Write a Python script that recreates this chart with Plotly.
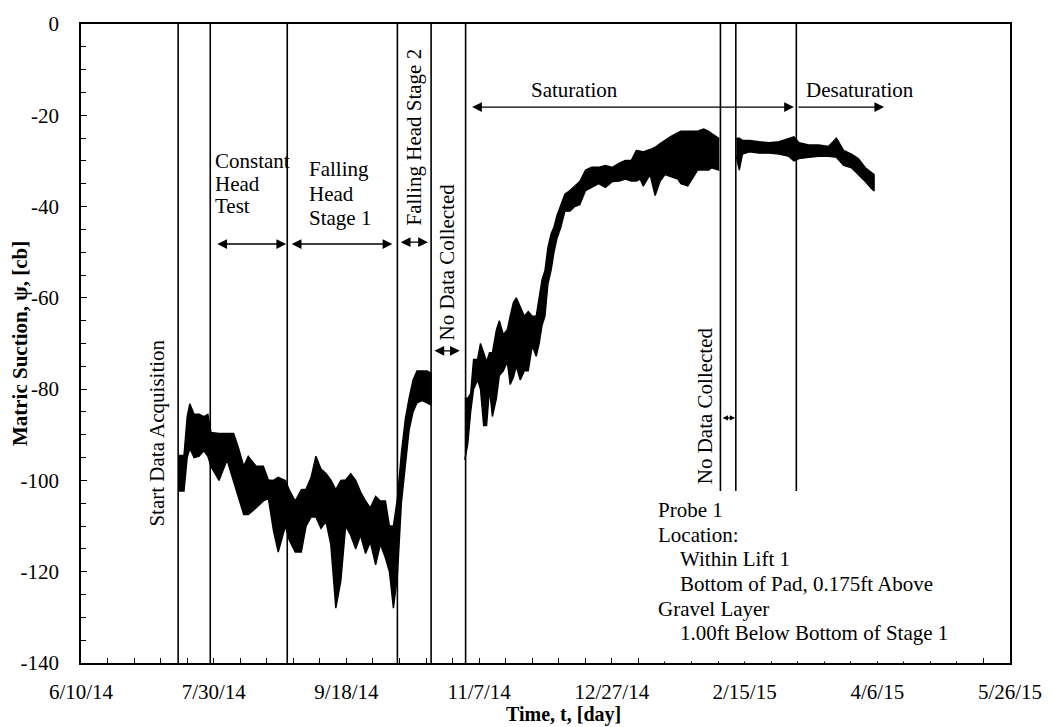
import pandas as pd
import plotly.graph_objects as go

START = "2014-06-10"          # left end of the time axis
END = "2015-05-26"            # right end of the time axis

# x tick labels (every 50 days)
xtick_dates = ["2014-06-10", "2014-07-30", "2014-09-18", "2014-11-07",
               "2014-12-27", "2015-02-15", "2015-04-06", "2015-05-26"]
xtick_text = ["6/10/14", "7/30/14", "9/18/14", "11/7/14",
              "12/27/14", "2/15/15", "4/6/15", "5/26/15"]
ytick_vals = [0, -20, -40, -60, -80, -100, -120, -140]
ytick_text = ["0", "-20", "-40", "-60", "-80", "-100", "-120", "-140"]

# Probe 1 record: days since 6/10/14, upper and lower envelope of the noisy signal [cb]
days_1 = [36.6, 38.8, 40.0, 41.0, 42.6, 44.5, 46.3, 47.8, 49.0, 52.0,
          55.0, 57.5, 59.4, 61.3, 63.0, 66.0, 68.7, 70.6, 72.5, 74.3,
          77.0, 78.4, 80.7, 83.0, 84.8, 86.7, 88.5, 90.4, 92.3, 94.1,
          96.0, 97.9, 99.7, 101.6, 103.5, 105.3, 107.2, 109.0, 111.0, 112.8,
          114.7, 116.2, 117.7, 119.2, 120.7, 122.2, 123.6, 125.1, 126.6, 128.5,
          130.4, 131.9]
upper_1 = [-94.5, -94.5, -86, -83.2, -85.5, -85.5, -86, -85.5, -89.5, -89.7,
           -89.7, -89.7, -93, -96.9, -94.7, -96.9, -96.9, -99.9, -100, -99.3,
           -100, -102, -104.5, -102, -101.9, -99.3, -94.7, -97.5, -98.5, -99.9,
           -102, -100, -99.9, -98.5, -100, -102.5, -104.5, -106, -103.5, -104.5,
           -104.5, -110, -110, -104, -94, -86.5, -82, -78, -76, -76,
           -76, -76.5]
lower_1 = [-102.3, -102.3, -95, -93, -95, -94.7, -93.5, -94.7, -97, -100,
           -95.5, -100, -104, -107.5, -107.5, -106, -104.5, -104, -111, -115.7,
           -110, -113, -115.7, -115.7, -110, -108, -108, -110.5, -109, -114,
           -128, -122, -110, -112, -115, -112, -116, -113.5, -118.5, -114,
           -117, -120, -128, -121, -105, -97, -89, -85, -83, -82.5,
           -83, -83.5]

days_2 = [144.6, 145.7, 146.8, 147.9, 149.4, 150.5, 151.7, 152.8, 153.9, 155.0,
          156.5, 157.6, 159.1, 160.6, 161.7, 162.9, 164.0, 165.5, 167.0, 168.5,
          170.0, 171.5, 172.6, 173.7, 174.8, 175.9, 177.1, 178.2, 179.3, 180.8,
          182.3, 184.2, 186.0, 187.9, 190.1, 192.4, 195.0, 197.6, 200.2, 202.8,
          205.1, 207.3, 209.2, 210.7, 211.8, 214.4, 216.3, 218.2, 220.0, 222.3,
          224.9, 226.0, 228.6, 232.3, 234.6, 236.5, 237.6, 240.2]
upper_2 = [-82, -82, -81, -73.5, -73.5, -70, -72, -74, -72, -72,
           -67, -65, -68, -67, -64, -61, -60, -62, -64, -63,
           -64, -64, -60, -56, -54, -49, -46, -44.5, -42, -39.6,
           -37.3, -36.5, -35.5, -34.5, -32, -31.4, -31.4, -31, -31.4, -30.5,
           -29.9, -29.9, -27.7, -27.8, -28, -27.5, -27, -26.2, -25.5, -24.6,
           -23.8, -23.5, -23.5, -23.5, -23, -23.5, -24, -25]
lower_2 = [-95.5, -92, -85, -80, -78, -80, -88, -88, -80, -86,
           -82, -77, -76, -74, -79, -77.4, -75, -78, -76, -76,
           -70.5, -72.8, -70, -66, -64, -57, -54, -50, -47, -44.5,
           -41, -41, -40, -39.6, -36.5, -35.8, -35, -35.8, -34.5, -34.4,
           -34, -34.4, -34.4, -34, -35.5, -33, -37.6, -34.4, -33, -33.5,
           -34, -35, -35.5, -32, -32, -32, -31.5, -32]

days_3 = [246.9, 248.0, 249.2, 251.8, 255.5, 259.2, 263.0, 266.7, 268.6, 270.5,
          274.2, 277.9, 281.7, 284.6, 287.3, 290.3, 292.9, 295.5, 297.7, 298.8]
upper_3 = [-25, -25, -25.5, -25.5, -25.8, -26, -25.8, -25, -24.7, -26,
           -26.5, -26.5, -26.8, -25, -27.7, -28.5, -29.5, -31.5, -32.5, -33]
lower_3 = [-29, -32, -28.5, -28, -28.3, -28.3, -28.5, -29, -30, -29.5,
           -29.2, -29, -29, -29.2, -31, -31.5, -33, -34.5, -36, -36.6]

# stage boundaries (days since 6/10/14)
full_lines = [36.6, 48.7, 77.7, 119.2, 131.9, 144.9]
short_lines = [240.9, 246.7, 269.5]
short_line_bottom = -102.3

FONT = "Liberation Serif, Times New Roman, serif"
FS = 21

t0 = pd.Timestamp(START)


def day(d):
    return (t0 + pd.to_timedelta(d, unit="D")).strftime("%Y-%m-%d %H:%M:%S")


# plot-area pixel box (for text placement)
L, R, T, B = 81, 1018, 15, 663


def px(x):
    return (x - L) / (R - L)


def py(y):
    return (B - y) / (B - T)


fig = go.Figure()

for d, up, lo in [(days_1, upper_1, lower_1), (days_2, upper_2, lower_2),
                  (days_3, upper_3, lower_3)]:
    xs = [day(v) for v in d] + [day(v) for v in d[::-1]]
    ys = list(up) + list(lo[::-1])
    fig.add_trace(go.Scatter(x=xs, y=ys, mode="lines", fill="toself",
                             fillcolor="black",
                             line=dict(color="black", width=1.4),
                             hoverinfo="skip", showlegend=False))

shapes = []
for d in full_lines:
    shapes.append(dict(type="line", xref="x", yref="paper", x0=day(d), x1=day(d),
                       y0=0, y1=1, line=dict(color="black", width=1.6)))
for d in short_lines:
    shapes.append(dict(type="line", xref="x", yref="y", x0=day(d), x1=day(d),
                       y0=short_line_bottom, y1=0, line=dict(color="black", width=1.6)))
# white text box of the probe description (covers axis ticks beneath it)
shapes.append(dict(type="rect", xref="paper", yref="paper", x0=px(650), x1=px(986),
                   y0=py(661.5), y1=py(493), fillcolor="white", line=dict(width=0),
                   layer="above"))

ann = []


def arrow(d0, d1, yv, both=True, size=1.5):
    ann.append(dict(x=day(d1), y=yv, ax=day(d0), ay=yv, xref="x", yref="y",
                    axref="x", ayref="y", text="", showarrow=True,
                    arrowhead=2, startarrowhead=2,
                    arrowside="end+start" if both else "end",
                    arrowsize=size, startarrowsize=size, arrowwidth=1.3,
                    arrowcolor="black", standoff=0, startstandoff=0))


arrow(50.8, 77.3, -48.2)
arrow(78.8, 117.3, -48.2)
arrow(119.9, 130.7, -47.8)
arrow(132.6, 142.7, -71.6)
arrow(146.8, 268.6, -18.2)
arrow(269.7, 302.6, -18.2, both=False)
arrow(241.2, 246.4, -86.3, size=0.8)


def text(s, x, y, xanchor="left", angle=0, bold=False, size=FS):
    ann.append(dict(text=("<b>%s</b>" % s) if bold else s, x=px(x), y=py(y),
                    xref="paper", yref="paper", showarrow=False,
                    xanchor=xanchor, yanchor="middle", textangle=angle,
                    font=dict(family=FONT, size=size, color="black")))


text("Start Data Acquisition", 158, 430, "center", -90)
text("Constant", 214, 154)
text("Head", 214, 177)
text("Test", 214, 200)
text("Falling", 309, 162)
text("Head", 309, 187)
text("Stage 1", 309, 212)
text("Falling Head Stage 2", 417, 130, "center", -90)
text("No Data Collected", 450, 256, "center", -90)
text("Saturation", 579, 82, "center")
text("Desaturation", 867, 82, "center")
text("No Data Collected", 710, 402, "center", -90)
text("Probe 1", 661, 508)
text("Location:", 661, 533)
text("Within Lift 1", 683, 558)
text("Bottom of Pad, 0.175ft Above", 683, 583)
text("Gravel Layer", 661, 608)
text("1.00ft Below Bottom of Stage 1", 683, 633)
# axis titles
text("Time, t, [day]", 568, 715, "center", bold=True, size=20)
text("Matric Suction, \u03c8, [cb]", 19, 339, "center", -90, bold=True, size=21)

fig.update_layout(
    width=1054, height=727,
    margin=dict(l=L, r=1054 - R, t=T, b=727 - B),
    paper_bgcolor="white", plot_bgcolor="white",
    font=dict(family=FONT, size=FS, color="black"),
    shapes=shapes, annotations=ann, showlegend=False,
)
fig.update_xaxes(
    type="date", range=[START, END], showgrid=False, zeroline=False,
    showline=True, linecolor="black", linewidth=1.6, mirror=True,
    tickmode="array", tickvals=xtick_dates, ticktext=xtick_text,
    ticks="inside", ticklen=5, tickcolor="black", tickwidth=1,
    ticklabelstandoff=9,
    minor=dict(ticks="inside", ticklen=5, tickcolor="black", tickwidth=1,
               tickmode="linear", tick0=START, dtick=10 * 86400000, showgrid=False),
    tickfont=dict(family=FONT, size=FS, color="black"),
)
fig.update_yaxes(
    range=[-140, 0], showgrid=False, zeroline=False,
    showline=True, linecolor="black", linewidth=1.6, mirror=True,
    tickmode="array", tickvals=ytick_vals, ticktext=ytick_text,
    ticks="inside", ticklen=6, tickcolor="black", tickwidth=1,
    ticklabelstandoff=16,
    minor=dict(ticks="inside", ticklen=5, tickcolor="black", tickwidth=1,
               tickmode="linear", tick0=0, dtick=5, showgrid=False),
    tickfont=dict(family=FONT, size=FS, color="black"),
)

fig.write_html("out.html")
